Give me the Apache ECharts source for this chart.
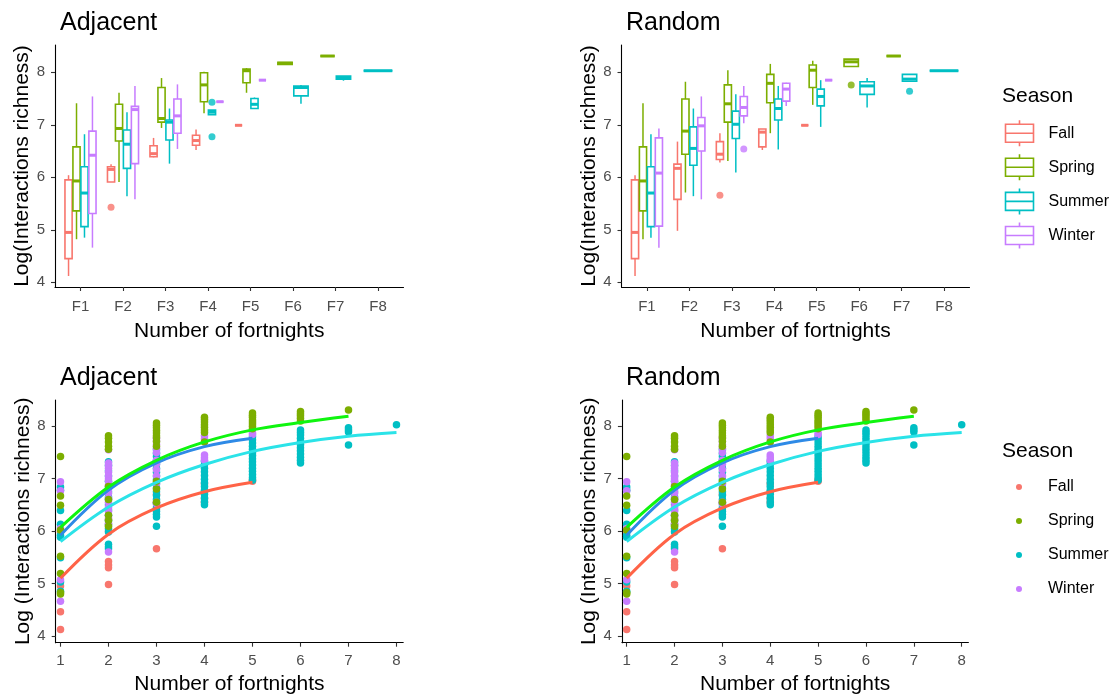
<!DOCTYPE html>
<html>
<head>
<meta charset="utf-8">
<script src="https://cdn.jsdelivr.net/npm/echarts@6/dist/echarts.min.js"></script>
<style>
html,body{margin:0;padding:0;background:#fff;}
#chart{width:1112px;height:697px;}
</style>
</head>
<body>
<div id="chart"></div>
<script>
// ---------- Data ----------
const seasons = ['Fall', 'Spring', 'Summer', 'Winter'];
const seasonColors = ['#F8766D', '#7CAE00', '#00BFC4', '#C77CFF'];
const xLabels = ['F1', 'F2', 'F3', 'F4', 'F5', 'F6', 'F7', 'F8'];
const fortnights = [1, 2, 3, 4, 5, 6, 7, 8];
const yTicks = [4, 5, 6, 7, 8];

// Boxplot stats per fortnight: [min, q1, median, q3, max]
const adjFall = [[4.12,4.45,4.95,5.95,6.04],[5.91,5.91,6.15,6.20,6.25],[6.38,6.39,6.45,6.60,6.75],[6.52,6.61,6.70,6.80,6.91],[6.99,6.99,6.99,6.99,6.99],null,null,null];
const adjSpring = [[4.82,5.36,5.93,6.58,7.41],[5.91,6.69,6.93,7.39,7.61],[6.94,7.05,7.12,7.71,7.89],[7.22,7.44,7.76,7.99,8.01],[7.61,7.80,8.03,8.06,8.08],[8.15,8.15,8.17,8.19,8.19],[8.31,8.31,8.31,8.31,8.31],null];
const adjSummer = [[4.85,5.06,5.70,6.20,6.82],[5.64,6.17,6.63,6.90,7.24],[6.26,6.71,7.05,7.09,7.31],[7.19,7.19,7.24,7.28,7.28],[7.31,7.31,7.39,7.50,7.52],[7.40,7.55,7.71,7.74,7.76],[7.84,7.87,7.90,7.93,7.93],[8.03,8.03,8.03,8.03,8.03]];
const adjWinter = [[4.66,5.31,6.42,6.88,7.54],[5.58,6.26,7.29,7.35,7.74],[6.54,6.84,7.17,7.49,7.77],[7.44,7.44,7.44,7.44,7.44],[7.85,7.85,7.85,7.85,7.85],null,null,null];
// Outliers: [fortnight, season index, value]
const adjOutliers = [[2,0,5.43],[4,2,7.43],[4,2,6.77]];

const rndFall = [[4.12,4.45,4.95,5.95,6.04],[4.98,5.58,6.17,6.25,6.68],[6.28,6.34,6.44,6.68,6.84],[6.52,6.58,6.86,6.92,6.92],[6.99,6.99,6.99,6.99,6.99],null,null,null];
const rndSpring = [[4.82,5.36,5.93,6.58,7.41],[5.71,6.44,6.88,7.49,7.82],[6.31,7.05,7.40,7.76,8.04],[6.84,7.42,7.79,7.96,8.16],[7.38,7.71,8.04,8.14,8.22],[8.11,8.11,8.20,8.25,8.25],[8.31,8.31,8.31,8.31,8.31],null];
const rndSummer = [[4.85,5.06,5.70,6.20,6.82],[5.64,6.23,6.55,6.96,7.31],[6.09,6.74,7.01,7.26,7.58],[6.53,7.09,7.31,7.49,7.74],[6.96,7.36,7.54,7.68,7.85],[7.33,7.58,7.74,7.82,7.89],[7.83,7.83,7.87,7.96,7.96],[8.03,8.03,8.03,8.03,8.03]];
const rndWinter = [[4.66,5.07,6.08,6.75,6.93],[5.58,6.50,6.98,7.14,7.54],[7.03,7.17,7.33,7.54,7.74],[7.36,7.45,7.68,7.79,7.80],[7.85,7.85,7.85,7.85,7.85],null,null,null];
const rndOutliers = [[3,0,5.66],[3,3,6.54],[6,1,7.76],[7,2,7.64]];

// Scatter points per fortnight (index 0 = fortnight 1)
const fallPts = [
  [5.98,4.95,4.46,4.12],
  [6.22,6.12,6.00,5.42,5.35,5.30,4.98],
  [6.70,6.55,6.42,5.66],
  [6.90,6.75,6.62,6.55],
  [6.98,6.95],
  [],[],[]
];
const springPts = [
  [7.42,6.67,6.49,6.02,5.52,5.19,4.83,4.80],
  [7.82,7.77,7.70,7.62,7.56,6.85,6.60,6.30,6.20,6.09],
  [8.06,8.02,7.97,7.92,7.87,7.82,7.78,7.71,7.62,6.95,6.80,6.55],
  [8.17,8.13,8.08,8.03,7.98,7.93,7.88,7.70],
  [8.25,8.21,8.17,8.12,8.08,8.04,8.00,7.95],
  [8.28,8.24,8.20,8.15,8.10],
  [8.31],
  []
];
const summerPts = [
  [6.84,6.78,6.39,6.13,5.92,5.88,5.49,5.03,4.85],
  [7.32,7.25,7.15,7.05,6.95,6.85,6.75,6.65,6.60,6.50,6.40,6.30,6.20,6.12,6.05,5.98,5.75,5.70,5.66],
  [7.55,7.48,7.42,7.35,7.28,7.20,7.12,7.05,6.98,6.90,6.82,6.75,6.68,6.60,6.52,6.45,6.38,6.32,6.27,6.09],
  [7.33,7.27,7.20,7.13,7.06,6.99,6.92,6.85,6.78,6.70,6.63,6.56,6.50],
  [7.80,7.74,7.68,7.62,7.56,7.50,7.44,7.38,7.32,7.26,7.20,7.14,7.08,7.02,6.97],
  [7.93,7.88,7.83,7.77,7.71,7.65,7.59,7.53,7.47,7.41,7.35,7.30],
  [7.97,7.93,7.89,7.64],
  [8.03]
];
const winterPts = [
  [6.94,6.77,6.05,5.07,4.66],
  [7.55,7.30,7.25,7.20,7.12,7.05,7.00,6.95,6.88,6.80,6.72,6.62,6.55,6.45,6.38,6.30,6.25,6.15,5.60],
  [7.77,7.72,7.65,7.58,7.50,7.35,7.28,7.17,7.05,6.90,6.55,6.52],
  [7.82,7.76,7.45,7.40,7.35],
  [7.87,7.84],
  [],[],[]
];

// Fitted curves per fortnight
const fallFit = [5.10,5.94,6.44,6.75,6.93];
const summerFit = [5.80,6.46,6.93,7.27,7.52,7.69,7.81,7.88];
const winterFit = [5.92,6.78,7.30,7.61,7.77];
const springFit = [6.07,6.84,7.35,7.70,7.93,8.07,8.19];

// ---------- Build ----------
const FONT = '"Liberation Sans", Arial, sans-serif';
const chart = echarts.init(document.getElementById('chart'), null, {renderer: 'canvas'});

function dodge(boxSets) {
  const out = boxSets.map(() => []);
  const centers = {};
  for (let i = 0; i < 8; i++) {
    const present = [];
    boxSets.forEach((s, si) => { if (s[i]) present.push(si); });
    const n = present.length;
    present.forEach((si, j) => {
      const slot = 0.75 / n;
      const c = (i + 1) + (j - (n - 1) / 2) * slot;
      centers[(i + 1) + '_' + si] = c;
      out[si].push([c].concat(boxSets[si][i]).concat([slot * 0.9]));
    });
  }
  return {out, centers};
}

function renderBox(params, api) {
  const color = api.visual('color');
  const c = api.value(0), w = api.value(6);
  const xl = api.coord([c - w / 2, 0])[0];
  const xr = api.coord([c + w / 2, 0])[0];
  const xc = api.coord([c, 0])[0];
  const y = k => api.coord([c, api.value(k)])[1];
  const yMin = y(1), yQ1 = y(2), yMed = y(3), yQ3 = y(4), yMax = y(5);
  const ls = {stroke: color, lineWidth: 1.5};
  return {
    type: 'group',
    children: [
      {type: 'line', shape: {x1: xc, y1: yQ3, x2: xc, y2: yMax}, style: ls},
      {type: 'line', shape: {x1: xc, y1: yQ1, x2: xc, y2: yMin}, style: ls},
      {type: 'rect', shape: {x: xl, y: yQ3, width: xr - xl, height: yQ1 - yQ3}, style: {fill: '#fff', stroke: color, lineWidth: 1.6}},
      {type: 'line', shape: {x1: xl, y1: yMed, x2: xr, y2: yMed}, style: {stroke: color, lineWidth: 3, lineCap: 'butt'}}
    ]
  };
}

const grids = [
  {left: 55, top: 45, width: 348.5, height: 242},
  {left: 621.5, top: 45, width: 348, height: 242},
  {left: 55.7, top: 400, width: 347.5, height: 242.7},
  {left: 621.9, top: 400, width: 346.5, height: 242.7}
];

const axisLineCfg = {show: true, onZero: false, lineStyle: {color: '#000', width: 1.1}};
const tickCfg = (vals) => ({show: true, customValues: vals, length: 4, lineStyle: {color: '#333', width: 1.1}});
const labelStyle = {color: '#4D4D4D', fontSize: 15, fontFamily: FONT};
const nameStyle = {color: '#000', fontSize: 21, fontFamily: FONT};

const xAxes = [0, 1, 2, 3].map(gi => {
  const isBox = gi < 2;
  return {
    gridIndex: gi, type: 'value',
    min: isBox ? 0.4 : 0.9, max: isBox ? 8.6 : 8.14,
    axisLine: axisLineCfg,
    axisTick: tickCfg(fortnights),
    axisLabel: Object.assign({customValues: fortnights, margin: isBox ? 12.5 : 11,
      formatter: v => isBox ? xLabels[Math.round(v) - 1] : String(Math.round(v))}, labelStyle),
    splitLine: {show: false},
    name: 'Number of fortnights', nameLocation: 'middle', nameGap: isBox ? 34 : 31,
    nameTextStyle: nameStyle
  };
});
const yAxes = [0, 1, 2, 3].map(gi => {
  const isBox = gi < 2;
  return {
    gridIndex: gi, type: 'value',
    min: isBox ? 3.91 : 3.87, max: isBox ? 8.52 : 8.50,
    axisLine: axisLineCfg,
    axisTick: tickCfg(yTicks),
    axisLabel: Object.assign({customValues: yTicks, margin: 10}, labelStyle),
    splitLine: {show: false},
    name: isBox ? 'Log(Interactions richness)' : 'Log (Interactions richness)',
    nameLocation: 'middle', nameGap: 21,
    nameTextStyle: nameStyle
  };
});

const series = [];
function addBoxPanel(gi, sets, outliers) {
  const {out, centers} = dodge(sets);
  seasons.forEach((s, si) => {
    series.push({
      type: 'custom', name: s, xAxisIndex: gi, yAxisIndex: gi,
      renderItem: renderBox, data: out[si],
      itemStyle: {color: seasonColors[si]},
      encode: {x: 0, y: [1, 2, 3, 4, 5]}, silent: true
    });
  });
  series.push({
    type: 'scatter', name: 'outliers', xAxisIndex: gi, yAxisIndex: gi,
    symbolSize: 7, z: 3,
    data: outliers.map(o => ({value: [centers[o[0] + '_' + o[1]], o[2]], itemStyle: {color: seasonColors[o[1]]}}))
  });
}
addBoxPanel(0, [adjFall, adjSpring, adjSummer, adjWinter], adjOutliers);
addBoxPanel(1, [rndFall, rndSpring, rndSummer, rndWinter], rndOutliers);

const ptSets = [fallPts, springPts, summerPts, winterPts];
const drawOrder = [0, 2, 3, 1];
const fits = [
  {name: 'Fall fit', data: fallFit, color: '#FF6347'},
  {name: 'Summer fit', data: summerFit, color: '#2BE3E8'},
  {name: 'Winter fit', data: winterFit, color: '#2E8AE6'},
  {name: 'Spring fit', data: springFit, color: '#0FF50F'}
];
[2, 3].forEach(gi => {
  drawOrder.forEach(si => {
    const data = [];
    ptSets[si].forEach((vals, i) => vals.forEach(v => data.push([fortnights[i], v])));
    series.push({
      type: 'scatter', name: seasons[si], xAxisIndex: gi, yAxisIndex: gi,
      symbolSize: 7.5, itemStyle: {color: seasonColors[si], opacity: 1}, data, z: 2
    });
  });
  fits.forEach(f => {
    series.push({
      type: 'line', name: f.name, xAxisIndex: gi, yAxisIndex: gi,
      data: f.data.map((v, i) => [fortnights[i], v]),
      showSymbol: false, smooth: 0.35, z: 5,
      lineStyle: {color: f.color, width: 3}, itemStyle: {color: f.color}
    });
  });
});

const boxIcon = 'path://M14,0 L14,4 M0,4 L28,4 L28,22 L0,22 Z M0,13 L28,13 M14,22 L14,26';
const titleStyle = {fontSize: 25, fontWeight: 'normal', color: '#000', fontFamily: FONT};
const legTitleStyle = {fontSize: 21, fontWeight: 'normal', color: '#000', fontFamily: FONT};

const option = {
  animation: false,
  backgroundColor: '#fff',
  textStyle: {fontFamily: FONT},
  title: [
    {text: 'Adjacent', left: 55, top: 6, textStyle: titleStyle},
    {text: 'Random', left: 621, top: 6, textStyle: titleStyle},
    {text: 'Adjacent', left: 55, top: 361, textStyle: titleStyle},
    {text: 'Random', left: 621, top: 361, textStyle: titleStyle},
    {text: 'Season', left: 1002, top: 86, padding: 0, textStyle: legTitleStyle},
    {text: 'Season', left: 1002, top: 441, padding: 0, textStyle: legTitleStyle}
  ],
  legend: [
    {
      orient: 'vertical', left: 1003, top: 117.7, padding: 0,
      itemWidth: 48, itemHeight: 26, itemGap: 3.1,
      icon: boxIcon,
      textStyle: {fontSize: 16, color: '#000', fontFamily: FONT, lineHeight: 20},
      data: seasons.map((s, i) => ({name: s, itemStyle: {color: 'none', borderColor: seasonColors[i], borderWidth: 1.6}})),
      selectedMode: false
    },
    {
      orient: 'vertical', left: 1016, top: 477, padding: 0,
      itemWidth: 48, itemHeight: 6, itemGap: 14,
      icon: 'circle',
      textStyle: {fontSize: 16, color: '#000', fontFamily: FONT, lineHeight: 20},
      data: seasons.map((s, i) => ({name: s, itemStyle: {color: seasonColors[i], borderWidth: 0}})),
      selectedMode: false
    }
  ],
  grid: grids,
  xAxis: xAxes,
  yAxis: yAxes,
  series
};
chart.setOption(option);
</script>
</body>
</html>
